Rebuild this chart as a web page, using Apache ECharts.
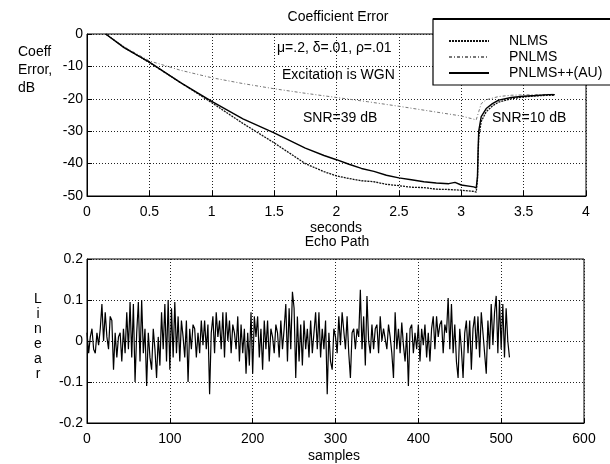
<!DOCTYPE html>
<html>
<head>
<meta charset="utf-8">
<script src="https://cdn.jsdelivr.net/npm/echarts@6/dist/echarts.min.js"></script>
<style>html,body{margin:0;padding:0;background:#fff}#c{width:610px;height:464px}</style>
</head>
<body>
<div id="c"></div>
<script>
// ---- Coefficient error (top) ----
const nlmsT   = [0.15,0.3,0.5,0.75,1.0,1.25,1.5,1.75,1.9,2.0,2.1,2.2,2.3,2.4,2.5,2.6,2.7,2.8,2.9,3.0,3.1,3.12,3.13,3.135,3.14,3.16,3.2,3.25,3.3,3.4,3.5,3.6,3.7,3.75];
const nlmsDb  = [0,-4.2,-8.8,-15,-21.2,-27.6,-33.6,-40,-42.5,-43.8,-44.6,-45.3,-45.6,-46.4,-46.8,-47.3,-47.4,-47.9,-48.0,-48.2,-48.6,-48.8,-45,-38,-32,-27,-24,-22.2,-21,-20,-19.4,-19.1,-18.9,-18.9];
const pnlmsT  = [0.15,0.3,0.5,0.75,1.0,1.25,1.5,1.75,2.0,2.25,2.5,2.75,3.0,3.1,3.12,3.14,3.16,3.2,3.3,3.4,3.5,3.75];
const pnlmsDb = [0,-4,-8.3,-11.2,-13.5,-15.3,-16.9,-18.3,-19.6,-20.9,-22.3,-23.8,-25.3,-26.3,-26.5,-24,-21.5,-20.3,-19.3,-18.9,-18.8,-18.6];
const ppT     = [0.15,0.3,0.5,0.75,1.0,1.25,1.5,1.75,1.9,2.0,2.1,2.2,2.3,2.4,2.5,2.6,2.7,2.8,2.9,2.95,3.0,3.1,3.12,3.13,3.135,3.14,3.16,3.2,3.25,3.3,3.4,3.5,3.6,3.7,3.75];
const ppDb    = [0,-4.3,-8.7,-15,-20.8,-26.2,-30.5,-35.2,-37.5,-38.8,-40.2,-41.5,-42.4,-43.6,-44.4,-45.0,-45.6,-46.0,-46.2,-45.8,-46.6,-47.2,-47.5,-44,-36,-30,-25.5,-23,-21.5,-20.4,-19.6,-19.2,-19,-18.7,-18.7];
const seriesNames = ['NLMS','PNLMS','PNLMS++(AU)'];
const topXTicks = {min:0, max:4, interval:0.5};
const topYTicks = {min:-50, max:0, interval:10};

// ---- Echo path (bottom), every 2nd sample ----
const sampleStep = 2;
const echo = [
0.02,-0.03,0.01,0.03,-0.02, -0.03,0.02,-0.01,0.03,0.09, 0.0,0.07,0.01,-0.02,0.06, 0.05,-0.07,0.02,-0.04,0.01,
0.02,-0.05,0.03,-0.03,0.07, -0.02,0.095,-0.04,0.09,-0.1, 0.02,0.095,-0.05,0.1,-0.03, 0.03,-0.11,0.02,-0.04,-0.07,
0.03,-0.02,-0.09,0.01,-0.06, 0.07,-0.02,0.09,-0.05,0.1, -0.07,0.08,-0.04,0.095,-0.03, 0.06,-0.05,0.05,0.01,-0.04,
0.05,-0.1,0.03,-0.02,0.04, 0.03,-0.04,0.02,-0.03,0.05, -0.01,0.05,-0.02,0.04,-0.13, 0.02,0.06,-0.03,0.07,0.01,
0.05,-0.02,0.07,-0.04,0.07, 0.0,0.05,-0.03,0.04,0.02, -0.02,0.06,-0.05,0.04,-0.03, 0.03,-0.08,0.02,-0.06,0.07,
-0.08,0.06,0.01,0.06,-0.04, 0.03,-0.07,0.05,-0.02,0.05, -0.05,0.03,0.01,-0.03,0.04, 0.02,-0.04,0.05,-0.02,0.03,
0.09,-0.05,0.08,-0.02,0.12, 0.08,-0.09,0.06,-0.05,0.04, -0.06,0.05,-0.02,0.03,-0.04, 0.05,-0.03,0.02,0.07,-0.02,
0.07,-0.04,0.03,-0.02,0.05, -0.13,0.02,-0.05,-0.07,0.03, 0.01,-0.03,0.06,-0.01,0.07, 0.07,-0.02,0.06,-0.03,-0.09,
0.02,0.03,-0.02,0.03,0.01, 0.125,-0.02,0.06,-0.06,0.11, 0.0,-0.03,0.04,-0.02,0.03, 0.04,-0.03,0.06,0.0,0.03,
0.03,-0.02,0.04,0.01,-0.03, -0.09,0.07,-0.02,0.03,-0.03, 0.045,-0.01,-0.05,0.02,-0.11, 0.03,0.04,-0.03,0.02,-0.02,
0.04,-0.05,0.03,-0.01,0.04, -0.04,0.02,-0.05,0.03,0.06, -0.02,0.06,0.01,0.04,0.05, -0.03,0.04,0.02,0.105,-0.02,
0.09,-0.03,0.04,-0.05,-0.09, 0.03,-0.02,-0.09,0.02,0.05, -0.03,0.05,-0.07,0.03,0.06, -0.02,0.06,-0.04,0.07,0.02,
-0.03,-0.08,0.05,-0.02,0.09, -0.01,0.07,0.11,-0.03,0.1, -0.02,0.09,-0.04,0.08,0.0, -0.04
];
const botXTicks = {min:0, max:600, interval:100};
const botYTicks = {min:-0.2, max:0.2, interval:0.1};

const FONT = 'Liberation Sans, Arial, Helvetica, sans-serif';
const pairs = (xs, ys) => xs.map((x, i) => [x, ys[i]]);
const echoPairs = echo.map((v, i) => [i * sampleStep, v]);

const axisCommon = {
  axisLine: {show: true, onZero: false, lineStyle: {color: '#000', width: 1}},
  axisTick: {show: true, inside: true, length: 5, lineStyle: {color: '#000'}},
  splitLine: {show: true, lineStyle: {color: '#222', type: [1, 2], width: 1}},
  axisLabel: {color: '#000', fontFamily: FONT, fontSize: 14}
};

const chart = echarts.init(document.getElementById('c'), null, {renderer: 'canvas'});
chart.setOption({
  animation: false,
  backgroundColor: '#fff',
  textStyle: {fontFamily: FONT},
  grid: [
    {left: 87, right: 24, top: 34, height: 162, show: true, borderColor: '#000', borderWidth: 1, backgroundColor: 'transparent'},
    {left: 87, right: 26, top: 259, height: 164, show: true, borderColor: '#000', borderWidth: 1, backgroundColor: 'transparent'}
  ],
  xAxis: [
    Object.assign({}, axisCommon, {type: 'value', gridIndex: 0, min: topXTicks.min, max: topXTicks.max, interval: topXTicks.interval,
      axisLabel: Object.assign({}, axisCommon.axisLabel, {margin: 9})}),
    Object.assign({}, axisCommon, {type: 'value', gridIndex: 1, min: botXTicks.min, max: botXTicks.max, interval: botXTicks.interval,
      axisLabel: Object.assign({}, axisCommon.axisLabel, {margin: 9})})
  ],
  yAxis: [
    Object.assign({}, axisCommon, {type: 'value', gridIndex: 0, min: topYTicks.min, max: topYTicks.max, interval: topYTicks.interval,
      axisLabel: Object.assign({}, axisCommon.axisLabel, {margin: 4})}),
    Object.assign({}, axisCommon, {type: 'value', gridIndex: 1, min: botYTicks.min, max: botYTicks.max, interval: botYTicks.interval,
      axisLabel: Object.assign({}, axisCommon.axisLabel, {margin: 4})})
  ],
  legend: {
    orient: 'vertical', left: 443, top: 29, z: 5,
    itemWidth: 40, itemHeight: 12, itemGap: 2,
    data: seriesNames,
    itemStyle: {opacity: 0},
    lineStyle: {inactiveWidth: 1},
    textStyle: {color: '#000', fontFamily: FONT, fontSize: 14, padding: [0, 0, 0, 15]}
  },
  graphic: [
    {type: 'rect', z: 4, shape: {x: 433, y: 19, width: 200, height: 66}, style: {fill: '#fff', stroke: '#000', lineWidth: 1.2}},
    {type: 'line', z: 4, shape: {x1: 433, y1: 19, x2: 610, y2: 19}, style: {stroke: '#000', lineWidth: 2}},
    {type: 'text', x: 338, y: 17, style: {text: 'Coefficient Error', fill: '#000', font: '14px ' + FONT, align: 'center', verticalAlign: 'middle'}},
    {type: 'text', x: 277, y: 48, style: {text: 'μ=.2, δ=.01, ρ=.01', fill: '#000', font: '14px ' + FONT, verticalAlign: 'middle'}},
    {type: 'text', x: 282, y: 75, style: {text: 'Excitation is WGN', fill: '#000', font: '14px ' + FONT, verticalAlign: 'middle'}},
    {type: 'text', x: 303, y: 118, style: {text: 'SNR=39 dB', fill: '#000', font: '14px ' + FONT, verticalAlign: 'middle'}},
    {type: 'text', x: 492, y: 118, style: {text: 'SNR=10 dB', fill: '#000', font: '14px ' + FONT, verticalAlign: 'middle'}},
    {type: 'text', x: 18, y: 70, style: {text: 'Coeff\nError,\ndB', fill: '#000', font: '14px ' + FONT, lineHeight: 18, verticalAlign: 'middle'}},
    {type: 'text', x: 336, y: 228, style: {text: 'seconds', fill: '#000', font: '14px ' + FONT, align: 'center', verticalAlign: 'middle'}},
    {type: 'text', x: 337, y: 242, style: {text: 'Echo Path', fill: '#000', font: '14px ' + FONT, align: 'center', verticalAlign: 'middle'}},
    {type: 'text', x: 38, y: 337, style: {text: 'L\ni\nn\ne\na\nr', fill: '#000', font: '14px ' + FONT, lineHeight: 15, align: 'center', verticalAlign: 'middle'}},
    {type: 'text', x: 334, y: 456, style: {text: 'samples', fill: '#000', font: '14px ' + FONT, align: 'center', verticalAlign: 'middle'}}
  ],
  series: [
    {name: seriesNames[0], type: 'line', xAxisIndex: 0, yAxisIndex: 0, data: pairs(nlmsT, nlmsDb),
     showSymbol: false, symbol: 'none', lineStyle: {color: '#111', width: 1.3, type: [2, 1]}, itemStyle: {color: '#111'}},
    {name: seriesNames[1], type: 'line', xAxisIndex: 0, yAxisIndex: 0, data: pairs(pnlmsT, pnlmsDb),
     showSymbol: false, symbol: 'none', lineStyle: {color: '#777', width: 1, type: [3, 2, 1, 2]}, itemStyle: {color: '#777'}},
    {name: seriesNames[2], type: 'line', xAxisIndex: 0, yAxisIndex: 0, data: pairs(ppT, ppDb),
     showSymbol: false, symbol: 'none', lineStyle: {color: '#000', width: 1.4, type: 'solid'}, itemStyle: {color: '#000'}},
    {name: 'Echo Path', type: 'line', xAxisIndex: 1, yAxisIndex: 1, data: echoPairs,
     showSymbol: false, symbol: 'none', lineStyle: {color: '#000', width: 1.2}, itemStyle: {color: '#000'}}
  ]
});
</script>
</body>
</html>
